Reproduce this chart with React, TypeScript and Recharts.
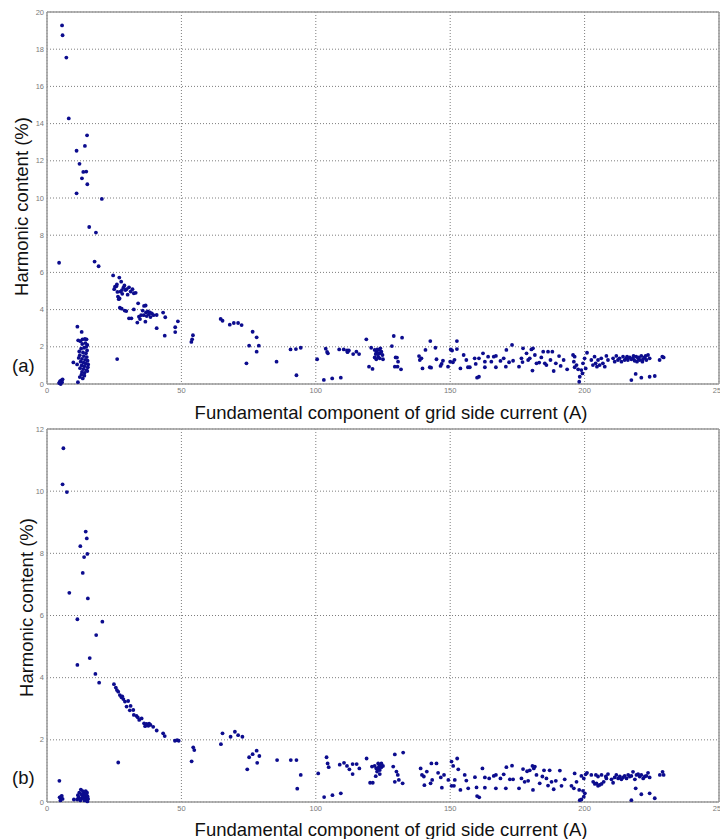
import React from 'react';
import { ScatterChart, Scatter, XAxis, YAxis, CartesianGrid, ReferenceLine } from 'recharts';

const xTicks = [0, 50, 100, 150, 200, 250];
const yTicksA = [0, 2, 4, 6, 8, 10, 12, 14, 16, 18, 20];
const yTicksB = [0, 2, 4, 6, 8, 10, 12];
const xTitle = 'Fundamental component of grid side current (A)';
const yTitle = 'Harmonic content (%)';
const panelTags = ['(a)', '(b)'];

// Panel (a): [current (A), harmonic content (%)]
const pointsA: [number, number][] = [
  [5.6, 19.28], [5.8, 18.75], [7.2, 17.55], [8.1, 14.28], [14.9, 13.37], [14.1, 12.8], [11.0, 12.54],
  [12.1, 11.84], [13.5, 11.4], [14.6, 11.42], [13.0, 11.06], [15.0, 10.74], [11.0, 10.25], [20.4, 9.95],
  [15.7, 8.44], [18.2, 8.14], [4.5, 6.52], [17.7, 6.58], [19.2, 6.33],
  [24.6, 5.84], [26.9, 5.72], [25.3, 5.23], [25.8, 5.25], [27.6, 5.5], [27.3, 4.97], [26.7, 4.56], [27.0, 4.6],
  [28.4, 5.18], [28.0, 4.85], [29.2, 5.05], [30.5, 5.2], [31.1, 4.97], [32.3, 4.88], [33.0, 4.9], [28.8, 5.3],
  [26.2, 4.95], [27.1, 4.1], [27.8, 4.05], [28.9, 3.95], [29.5, 3.92], [30.5, 3.53], [31.4, 3.53], [32.3, 4.01],
  [33.9, 4.34], [33.6, 3.3], [34.6, 3.49], [36.1, 4.2], [36.7, 4.22], [36.0, 3.7], [36.8, 3.85], [37.5, 3.9],
  [38.3, 3.85], [39.0, 3.8], [37.1, 3.65], [36.6, 3.35], [38.5, 3.6], [40.8, 3.71], [40.8, 3.0], [43.2, 3.84],
  [44.0, 3.59], [43.8, 2.6], [47.7, 3.05], [47.7, 2.79], [48.7, 3.37], [53.7, 2.26], [54.3, 2.62], [54.0, 2.4],
  [64.6, 3.5], [65.3, 3.4], [68.0, 3.19], [69.5, 3.28], [71.1, 3.28], [26.1, 1.34],
  [25.0, 5.1], [26.0, 5.35], [27.9, 5.05], [29.6, 5.1], [30.0, 4.8], [31.8, 5.1], [26.4, 4.7], [35.0, 3.7],
  [35.6, 3.95], [37.9, 3.75], [39.6, 3.7], [34.2, 3.62],
  [4.5, 0.05], [4.9, 0.15], [5.3, 0.2], [5.6, 0.1], [5.1, 0.0], [5.8, 0.25], [4.7, 0.1],
  [11.3, 3.08], [12.9, 2.8], [11.6, 2.35], [12.4, 2.3], [13.2, 2.4], [14.1, 2.42], [14.7, 2.4], [15.0, 2.1],
  [14.6, 2.0], [13.8, 1.95], [12.7, 1.9], [14.9, 1.8], [13.4, 1.7], [14.5, 1.65], [12.2, 1.55], [13.7, 1.5],
  [14.8, 1.45], [11.8, 1.4], [13.0, 1.35], [14.2, 1.3], [15.1, 1.25], [12.5, 1.2], [13.6, 1.15], [9.8, 1.16],
  [11.2, 1.05], [14.4, 1.1], [12.9, 1.0], [13.9, 0.95], [15.2, 0.9], [12.3, 0.85], [13.5, 0.8], [14.6, 0.75],
  [13.0, 0.65], [14.0, 0.6], [15.0, 0.7], [12.8, 0.5], [13.9, 0.45], [12.2, 0.37], [11.5, 0.1], [14.3, 2.2],
  [13.1, 2.15], [12.0, 1.75], [15.3, 1.05], [13.3, 0.3],
  [72.4, 3.17], [76.5, 2.81], [78.0, 2.51], [75.2, 2.06], [78.8, 2.06], [78.0, 1.74], [74.2, 1.11], [85.4, 1.2],
  [90.6, 1.86], [92.6, 1.88], [94.4, 1.95], [92.8, 0.47], [100.5, 1.33], [103.0, 0.22], [103.7, 1.9], [104.2, 1.72],
  [104.5, 1.65], [106.1, 0.3], [108.7, 1.86], [109.3, 0.34], [110.4, 1.86], [111.6, 1.8], [112.3, 1.8], [111.8, 1.71],
  [113.9, 1.61], [115.1, 1.74], [116.1, 1.61], [118.8, 2.4], [120.6, 1.95], [119.8, 0.93], [121.1, 0.81],
  [121.9, 1.83], [122.5, 1.74], [122.8, 1.86], [123.5, 1.83], [123.8, 1.65], [124.4, 1.74], [124.8, 1.56], [123.2, 1.47],
  [121.9, 1.43], [122.5, 1.33], [123.8, 1.38], [125.0, 1.33], [124.0, 1.92], [122.3, 1.61], [123.2, 1.65],
  [128.3, 2.04], [129.0, 2.58], [132.1, 2.49], [129.7, 1.43], [130.2, 1.42], [130.6, 1.2], [129.4, 0.93], [130.4, 0.93],
  [131.7, 0.79], [138.4, 1.5], [139.3, 1.38], [138.7, 1.29], [139.7, 0.84], [140.8, 1.83], [142.6, 2.31], [144.5, 1.95],
  [144.9, 1.33], [142.4, 0.9], [142.9, 0.88], [146.4, 0.97], [146.8, 1.08], [147.3, 1.25], [149.2, 0.93], [150.2, 1.86],
  [150.7, 1.8], [152.5, 2.31], [152.5, 1.88], [150.0, 1.2], [151.0, 1.17], [151.6, 1.3], [153.8, 0.84], [155.0, 1.56],
  [156.0, 1.29], [156.6, 0.9], [157.3, 0.9], [159.1, 1.38], [159.5, 1.08], [160.0, 0.34], [160.7, 0.39], [160.7, 1.38],
  [162.2, 1.65], [162.9, 1.2], [162.9, 0.9], [164.1, 1.47], [165.3, 1.2], [166.2, 1.47], [167.0, 1.51], [167.0, 0.9],
  [168.7, 1.24], [169.9, 1.38], [170.7, 0.93], [170.9, 1.83], [171.9, 1.17], [173.0, 2.1], [173.4, 1.25], [175.6, 0.93],
  [176.5, 1.38], [176.9, 1.18], [177.1, 1.92], [178.4, 1.65], [179.0, 1.29], [179.6, 1.38], [180.2, 1.86], [180.8, 1.92],
  [180.6, 0.72], [181.5, 1.56], [182.1, 1.11], [183.1, 1.15], [183.9, 1.43], [184.6, 1.74], [185.2, 1.11], [185.8, 1.02],
  [186.4, 1.74], [187.3, 1.29], [188.0, 1.74], [188.5, 0.7], [189.3, 1.11], [190.5, 1.5], [191.1, 0.97], [192.2, 1.29],
  [193.5, 0.79], [195.7, 1.56], [196.3, 1.47], [196.0, 1.2], [197.0, 1.02], [196.3, 0.9], [197.6, 0.79], [198.0, 0.12],
  [198.2, 0.39], [198.8, 0.75], [199.2, 0.57], [199.4, 1.11], [200.0, 1.38], [200.4, 0.84], [200.9, 1.68],
  [202.5, 1.29], [203.1, 1.02], [203.7, 1.47], [204.1, 1.11], [204.6, 0.93], [205.0, 1.29], [205.6, 1.02], [206.2, 1.38],
  [206.8, 1.11], [207.5, 0.93], [208.1, 1.51], [208.7, 1.29],
  [210.6, 1.38], [211.2, 1.2], [211.8, 1.51], [212.4, 1.29], [213.0, 1.38], [213.7, 1.2], [214.3, 1.47], [214.9, 1.29],
  [215.5, 1.38], [216.1, 1.29], [216.8, 1.43], [217.4, 1.33], [218.0, 1.38], [218.6, 1.25], [219.2, 1.47], [219.9, 1.38],
  [220.5, 1.29], [221.1, 1.51], [221.7, 1.33], [222.3, 1.43], [223.0, 1.29], [223.6, 1.56], [224.2, 1.38],
  [220.2, 1.43], [221.5, 1.2], [222.7, 1.51], [218.2, 1.51], [219.5, 1.2], [215.8, 1.47],
  [217.4, 0.21], [219.0, 0.54], [221.1, 0.34], [224.2, 0.39], [226.1, 0.43], [227.9, 1.29], [228.9, 1.47], [229.4, 1.43],
];

// Panel (b): [current (A), harmonic content (%)]
const pointsB: [number, number][] = [
  [6.1, 11.38], [5.8, 10.22], [7.4, 9.97], [14.4, 8.7], [14.8, 8.48], [12.4, 8.23], [13.8, 7.88], [15.0, 7.98],
  [13.3, 7.37], [8.3, 6.73], [15.2, 6.55], [11.3, 5.88], [20.6, 5.8], [18.3, 5.37], [15.9, 4.63], [11.3, 4.41],
  [18.0, 4.12], [19.4, 3.84],
  [24.9, 3.79], [25.6, 3.68], [26.5, 3.55], [27.1, 3.44], [27.7, 3.37], [28.4, 3.31], [29.0, 3.23], [30.2, 3.25],
  [29.6, 3.07], [31.1, 3.09], [32.1, 2.96], [32.3, 2.8], [33.3, 2.77], [34.3, 2.64], [35.2, 2.69], [36.1, 2.53],
  [37.0, 2.51], [37.7, 2.45], [38.5, 2.48], [39.5, 2.42], [40.8, 2.3], [43.2, 2.21], [43.8, 2.12], [47.6, 1.97],
  [48.4, 1.99], [49.0, 1.97], [26.0, 3.6], [28.0, 3.4], [30.8, 2.95], [33.8, 2.72], [36.5, 2.44], [38.0, 2.52],
  [26.5, 1.27], [53.8, 1.31], [54.4, 1.76], [54.8, 1.67], [64.7, 1.86], [65.3, 2.21], [68.3, 2.1], [69.9, 2.26], [71.1, 2.15],
  [4.6, 0.68], [4.7, 0.15], [5.2, 0.12], [5.5, 0.2], [5.0, 0.05], [5.8, 0.1], [5.3, 0.18],
  [10.0, 0.08], [11.5, 0.22], [12.0, 0.3], [12.6, 0.4], [13.1, 0.22], [13.7, 0.28], [14.4, 0.35], [14.9, 0.3],
  [14.2, 0.12], [14.7, 0.05], [12.4, 0.05], [13.0, 0.12], [11.8, 0.15], [12.9, 0.25], [13.5, 0.15], [14.0, 0.2],
  [15.1, 0.18], [15.3, 0.1], [11.2, 0.08], [13.3, 0.35], [14.6, 0.25], [12.2, 0.1], [13.9, 0.05], [15.0, 0.02],
  [72.7, 2.1], [75.2, 1.44], [76.5, 1.54], [78.0, 1.65], [79.0, 1.48], [78.2, 1.26], [74.5, 1.05], [85.6, 1.35],
  [90.7, 1.35], [92.8, 1.35], [94.4, 0.87], [93.1, 0.43], [100.9, 0.92], [103.1, 0.16], [104.0, 1.44], [104.4, 1.24],
  [104.8, 1.12], [106.2, 0.22], [108.9, 1.2], [109.3, 0.28], [110.5, 1.26], [111.6, 1.16], [112.5, 1.05], [113.7, 1.22],
  [115.2, 1.22], [113.7, 0.9], [116.2, 1.08], [118.9, 1.4], [120.2, 0.62], [121.2, 0.62],
  [120.9, 1.14], [121.9, 1.16], [122.5, 1.08], [123.2, 1.24], [123.5, 1.14], [123.8, 1.03], [124.4, 1.12], [125.0, 1.16],
  [122.8, 0.98], [123.8, 0.9], [122.3, 0.83], [124.4, 1.24], [123.2, 1.08], [124.1, 1.19],
  [128.8, 1.14], [129.4, 1.53], [132.5, 1.59], [130.0, 0.98], [130.5, 0.87], [130.9, 0.71], [129.4, 0.65], [132.3, 0.6],
  [139.0, 1.08], [139.5, 0.87], [140.2, 0.82], [140.4, 0.54], [141.3, 0.98], [143.0, 1.24], [144.9, 1.24], [145.5, 0.94],
  [143.3, 0.71], [142.7, 0.6], [146.5, 0.79], [146.9, 0.46], [147.7, 0.87], [149.3, 0.71], [150.5, 1.3], [151.1, 1.16],
  [152.6, 1.4], [153.0, 1.05], [150.5, 0.52], [151.4, 0.52], [151.7, 0.71], [153.8, 0.39], [155.4, 0.87], [156.0, 0.69],
  [156.7, 0.44], [159.2, 0.8], [159.8, 0.47], [160.0, 0.19], [160.8, 0.15],
  [162.0, 1.08], [162.9, 0.79], [162.9, 0.46], [164.5, 0.76], [166.2, 0.84], [167.0, 0.87], [167.0, 0.44], [168.7, 0.76],
  [169.9, 0.89], [170.7, 0.44], [170.9, 1.12], [172.2, 0.73], [173.0, 1.17], [173.4, 0.73], [175.6, 0.44], [176.5, 0.76],
  [177.1, 1.06], [178.6, 0.99], [179.6, 1.02], [180.6, 1.16], [181.1, 1.08], [181.5, 1.14], [177.7, 0.65], [179.0, 0.68],
  [180.8, 0.39], [182.1, 0.87], [183.3, 0.6], [184.3, 0.82], [184.9, 1.02], [185.8, 0.76], [186.4, 0.53], [187.0, 1.02],
  [187.7, 0.65], [188.5, 0.41], [189.3, 0.68], [190.8, 1.01], [191.4, 0.52], [192.6, 0.73], [195.1, 0.52], [196.0, 0.44],
  [196.3, 0.92], [197.0, 0.65], [198.0, 0.39], [198.2, 0.06], [198.8, 0.08], [199.4, 0.36], [200.1, 0.28], [199.7, 0.17],
  [198.8, 0.84], [199.7, 0.76], [200.4, 0.89], [200.9, 0.94], [202.5, 0.87], [203.2, 0.65], [203.8, 0.58], [204.4, 0.6],
  [205.0, 0.52], [205.6, 0.55], [206.3, 0.58], [207.1, 0.65], [208.1, 0.76], [204.2, 0.87], [205.0, 0.82], [206.3, 0.87],
  [207.9, 0.82], [208.7, 0.9], [210.0, 0.73], [210.6, 0.62], [211.2, 0.79], [211.8, 0.87], [212.5, 0.76], [213.1, 0.82],
  [213.7, 0.73], [214.3, 0.79], [214.9, 0.84], [215.6, 0.76], [216.2, 0.87], [216.8, 0.82], [217.4, 0.84], [218.0, 0.97],
  [218.7, 0.73], [219.3, 0.87], [219.9, 0.9], [220.5, 0.82], [221.1, 0.87], [221.8, 0.76], [222.4, 0.82], [223.0, 0.84],
  [223.6, 0.94], [224.2, 0.79], [217.4, 0.06], [219.0, 0.44], [221.1, 0.25], [224.2, 0.28], [226.1, 0.12],
  [228.0, 0.87], [229.0, 0.97], [229.4, 0.87],
];

const FONT = '"Liberation Sans", Arial, sans-serif';
const AXIS_GREY = '#9a9a9a';
const TICK_STYLE = { fontSize: 7.5, fill: '#7a7a7a', fontFamily: FONT };

const Dot = (p: any) => <circle cx={p.cx} cy={p.cy} r={1.9} fill="#0c0c8e" />;

function Panel({ points, yTicks, yMax, height, top, xAxisHeight }: {
  points: [number, number][]; yTicks: number[]; yMax: number; height: number; top: number; xAxisHeight: number;
}) {
  const data = points.map(([x, y]) => ({ x, y }));
  return (
    <ScatterChart width={720} height={height} margin={{ top, right: 1, bottom: 0, left: 0 }} style={{ display: 'block' }}>
      <CartesianGrid stroke="#7e7e7e" strokeDasharray="1 2" />
      <XAxis
        type="number" dataKey="x" domain={[0, 250]} ticks={xTicks} interval={0}
        tickSize={0} tickMargin={4} height={xAxisHeight}
        axisLine={{ stroke: AXIS_GREY, strokeWidth: 1.5 }} tick={TICK_STYLE}
      />
      <YAxis
        type="number" dataKey="y" domain={[0, yMax]} ticks={yTicks} interval={0}
        tickSize={0} tickMargin={3} width={47}
        axisLine={{ stroke: AXIS_GREY, strokeWidth: 1.5 }} tick={TICK_STYLE}
      />
      <ReferenceLine y={yMax} stroke={AXIS_GREY} strokeWidth={1.5} />
      <ReferenceLine x={250} stroke={AXIS_GREY} strokeWidth={1.5} />
      <Scatter data={data} shape={Dot} isAnimationActive={false} />
    </ScatterChart>
  );
}

export default function App() {
  return (
    <div style={{ position: 'absolute', left: 0, top: 0, width: 720, height: 839, background: '#fff' }}>
      <Panel points={pointsA} yTicks={yTicksA} yMax={20} height={420} top={12} xAxisHeight={36} />
      <Panel points={pointsB} yTicks={yTicksB} yMax={12} height={419} top={9} xAxisHeight={37} />
      <svg width={720} height={839} style={{ position: 'absolute', left: 0, top: 0, pointerEvents: 'none' }}>
        <g fontFamily={FONT} fontSize={18.5} fill="#111">
          <text x={391} y={419} textAnchor="middle">{xTitle}</text>
          <text x={391} y={836} textAnchor="middle">{xTitle}</text>
          <text transform="translate(27.5,206.5) rotate(-90)" textAnchor="middle">{yTitle}</text>
          <text transform="translate(33,607.5) rotate(-90)" textAnchor="middle">{yTitle}</text>
          <text x={12} y={372}>{panelTags[0]}</text>
          <text x={12} y={784}>{panelTags[1]}</text>
        </g>
      </svg>
    </div>
  );
}
